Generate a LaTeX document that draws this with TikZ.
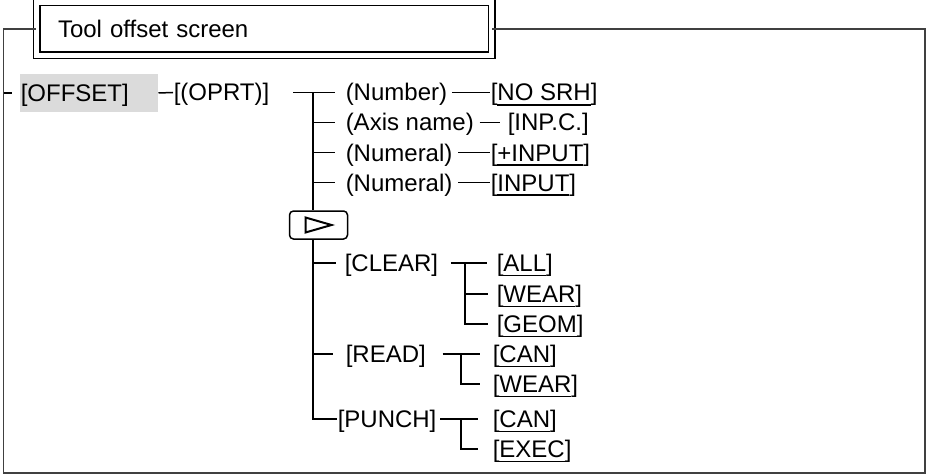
\documentclass[tikz,border=0pt]{standalone}
\usepackage{fontspec}
\setmainfont{Liberation Sans}
\usetikzlibrary{positioning,calc}

\newsavebox\keybox
\newcommand\keyu[1]{\sbox\keybox{#1}\rlap{\rule[-0.2em]{\wd\keybox}{1.6pt}}\usebox\keybox}

\begin{document}
\begin{tikzpicture}[x=1pt, y=-1pt, line width=1.5pt,
  txt/.style={inner sep=0pt, anchor=west, text height=18pt, text depth=1pt,
    font=\fontsize{24}{28}\selectfont},
  hilite/.style={txt, fill=black!14, text width=136pt, inner xsep=1pt, minimum height=38pt},
  titlebox/.style={draw, double, double distance=5pt, line width=1.5pt, minimum height=53pt,
    text width=412pt, inner xsep=21.5pt, align=left, font=\fontsize{24}{28}\selectfont},
  softkey/.style={draw, rounded corners=4pt, minimum width=58pt, minimum height=28pt, inner sep=0pt}]
\useasboundingbox (0,0) rectangle (926,476);
\node[titlebox] (title) at (264,29) {Tool offset screen};
\coordinate (fl) at (3.5,0);
\draw[black!75] (title.west) -- (3.5,29) -- (3.5,473) -- (925,473) -- (925,29) -- (title.east);

\node[hilite] (offset) at (19,93) {[OFFSET]};
\node[txt] (oprt) at (173,92.5) {[(OPRT)]};
\draw (offset.west -| fl) -- ([xshift=-7pt]offset.west);
\draw (offset.east) -- (oprt.west);

\coordinate (j1) at (313,92.5);
\node[txt] (number) at (345,92.5) {(Number)};
\node[txt] (axis) at (345,122.5) {(Axis name)};
\node[txt] (numa) at (345,152.5) {(Numeral)};
\node[txt] (numb) at (345,182.5) {(Numeral)};
\node[txt] (nosrh) at (490,92.5) {[\keyu{NO SRH}]};
\node[txt] (inpc) at (507,122.5) {[INP.C.]};
\node[txt] (pinput) at (490,152.5) {[\keyu{+INPUT}]};
\node[txt] (input) at (490,182.5) {[\keyu{INPUT}]};
\draw ([xshift=-20pt]j1) -- ([xshift=-10pt]number.west);
\foreach \n in {axis,numa,numb}
  \draw (j1 |- \n.west) -- ([xshift=-10pt]\n.west);
\draw ([xshift=4pt]number.east) -- (nosrh.west);
\draw ([xshift=5pt]axis.east) -- ([xshift=-7pt]inpc.west);
\draw ([xshift=5pt]numa.east) -- (pinput.west);
\draw ([xshift=5pt]numb.east) -- (input.west);

% next page key
\node[softkey] (more) at (318.5,225) {};
\draw[line width=2pt] ([shift={(-13,-7.5)}]more.center) -- ([shift={(13,0)}]more.center)
  -- ([shift={(-13,7.5)}]more.center) -- cycle;
\draw (j1) -- (j1 |- more.north);

\node[txt] (clear) at (344,263) {[CLEAR]};
\node[txt] (read) at (345,354) {[READ]};
\node[txt] (punch) at (337,419) {[PUNCH]};
\draw (j1 |- more.south) -- (j1 |- punch.west) -- (punch.west);
\draw (j1 |- clear.west) -- ([xshift=-8pt]clear.west);
\draw (j1 |- read.west) -- ([xshift=-12pt]read.west);

\coordinate (j2) at (465,263);
\node[txt] (all) at (496,263) {[\keyu{ALL}]};
\node[txt] (weara) at (496,294) {[\keyu{WEAR}]};
\node[txt] (geom) at (496,324) {[\keyu{GEOM}]};
\draw ([xshift=12pt]clear.east) -- ([xshift=-9pt]all.west);
\draw (j2) |- ([xshift=-8pt]geom.west);
\draw (j2 |- weara.west) -- ([xshift=-8pt]weara.west);

\coordinate (j3) at (461,354);
\node[txt] (cana) at (492,354) {[\keyu{CAN}]};
\node[txt] (wearb) at (492,384) {[\keyu{WEAR}]};
\draw ([xshift=16pt]read.east) -- ([xshift=-12pt]cana.west);
\draw (j3) |- ([xshift=-12pt]wearb.west);

\coordinate (j4) at (461,419);
\node[txt] (canb) at (492,419) {[\keyu{CAN}]};
\node[txt] (exec) at (492,449) {[\keyu{EXEC}]};
\draw ([xshift=3pt]punch.east) -- ([xshift=-14pt]canb.west);
\draw (j4) |- ([xshift=-14pt]exec.west);
\end{tikzpicture}
\end{document}
